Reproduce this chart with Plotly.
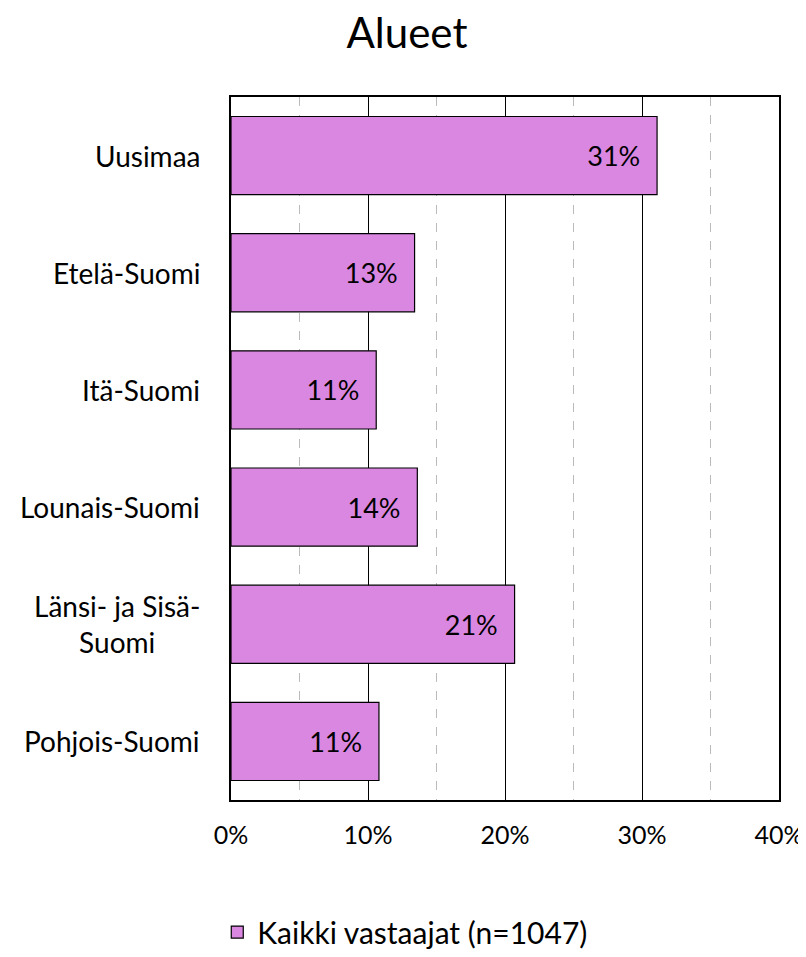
import plotly.graph_objects as go

categories = ["Uusimaa", "Etelä-Suomi", "Itä-Suomi", "Lounais-Suomi", "Länsi- ja Sisä-<br>Suomi", "Pohjois-Suomi"]
values = [31.1, 13.4, 10.6, 13.6, 20.7, 10.8]
labels = ["31%", "13%", "11%", "14%", "21%", "11%"]
series_name = "Kaikki vastaajat (n=1047)"
tick_vals = [0, 10, 20, 30, 40]
tick_text = ["0%", "10%", "20%", "30%", "40%"]

FONT = "Lato, 'Open Sans', sans-serif"

fig = go.Figure()
fig.add_trace(go.Bar(
    y=categories, x=values, orientation="h", name=series_name,
    text=labels, texttemplate="%{text}\u00a0\u00a0", textposition="inside", insidetextanchor="end",
    textfont=dict(size=27, color="black", family=FONT),
    marker=dict(color="#DA87E2", line=dict(color="black", width=1.2)),
    width=0.667, showlegend=True,
))

for c in categories:
    fig.add_annotation(x=-0.053, y=c, xref="paper", yref="y", text=c,
                       xanchor="right", yanchor="middle", align="center",
                       showarrow=False, font=dict(size=28, color="black", family=FONT))

fig.update_layout(
    width=798, height=941,
    margin=dict(l=223, r=27, t=89, b=149, autoexpand=False),
    paper_bgcolor="white", plot_bgcolor="white",
    title=dict(text="Alueet", x=0.5, xanchor="center", y=0.973, yanchor="middle",
               font=dict(size=42, color="black", family=FONT)),
    xaxis=dict(range=[0, 40], tickvals=tick_vals, ticktext=tick_text,
               showgrid=True, gridcolor="black", gridwidth=1.2,
               minor=dict(dtick=5, showgrid=True, gridcolor="#BBBBBB", griddash="dash", gridwidth=1.2),
               showline=True, linecolor="black", linewidth=1.5, mirror=True,
               ticks="", ticklabelstandoff=12, zeroline=False, ticklabeloverflow="allow",
               tickfont=dict(size=25, color="black", family=FONT)),
    yaxis=dict(autorange="reversed", showticklabels=False, showgrid=False,
               showline=True, linecolor="black", linewidth=1.5, mirror=True, ticks=""),
    legend=dict(orientation="h", x=0.318, xanchor="center", y=0.018, yanchor="middle",
                yref="container",
                font=dict(size=30, color="black", family=FONT)),
    bargap=0.333,
)

fig.write_html("out.html")
